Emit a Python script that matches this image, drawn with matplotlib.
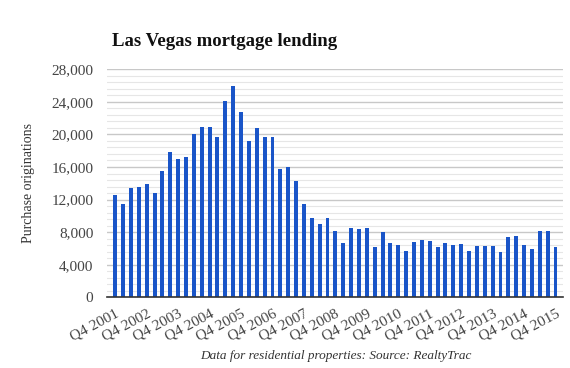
import matplotlib
matplotlib.use('Agg')
import matplotlib.pyplot as plt
import numpy as np

# quarterly purchase originations, Q4 2001 .. Q4 2015
quarters = ['Q4 %d' % y for y in range(2001, 2016)]
originations = [
    12580, 11470, 13480, 13560, 13930, 12870, 15530, 17870, 16930, 17260,
    20080, 20950, 20950, 19710, 24140, 25990, 22790, 19140, 20830, 19710,
    19710, 15780, 15990, 14300, 11470, 9750, 9060, 9750, 8150, 6720,
    8560, 8440, 8560, 6190, 8030, 6720, 6430, 5690, 6800, 7050,
    6930, 6190, 6680, 6430, 6560, 5690, 6310, 6310, 6310, 5610,
    7420, 7540, 6430, 5940, 8150, 8150, 6190,
]
yticks = [0, 4000, 8000, 12000, 16000, 20000, 24000, 28000]

plt.rcParams['font.family'] = ['Liberation Serif', 'DejaVu Serif']

fig = plt.figure(figsize=(5.7, 3.68), dpi=100)
ax = fig.add_axes([0.1884, 0.1921, 0.80, 0.6196])

x = np.arange(len(originations))
ax.bar(x, originations, width=0.5, color='#1a55c8', zorder=3)

ax.set_xlim(-1, len(originations))
ax.set_ylim(0, 28000)

# grid: major every 4000, minor every 800
ax.set_yticks(yticks)
ax.set_yticklabels(['{:,}'.format(v) for v in yticks], fontsize=11, color='#444444')
ax.set_yticks(np.arange(0, 28001, 800), minor=True)
ax.grid(axis='y', which='major', color='#c8c8c8', linewidth=1.0, zorder=0)
ax.grid(axis='y', which='minor', color='#e6e6e6', linewidth=0.8, zorder=0)
ax.tick_params(axis='y', which='both', length=0, pad=10)

ax.set_xticks(x[::4])
ax.set_xticklabels(quarters, rotation=28, ha='right', rotation_mode='anchor',
                   fontsize=11, color='#444444')
ax.tick_params(axis='x', length=0, pad=7)

for s in ['top', 'right', 'left']:
    ax.spines[s].set_visible(False)
ax.spines['bottom'].set_color('#333333')
ax.spines['bottom'].set_linewidth(1.2)
ax.spines['bottom'].set_zorder(4)

ax.set_ylabel('Purchase originations', fontsize=10, color='#333333', labelpad=12)

fig.text(112 / 570, 1 - 42 / 368, 'Las Vegas mortgage lending', fontsize=13.5,
         fontweight='bold', va='center', ha='left', color='#111111')
fig.text(336 / 570, 1 - 356 / 368, 'Data for residential properties: Source: RealtyTrac',
         fontsize=9.5, style='italic', ha='center', va='center', color='#333333')

fig.savefig('out.png', dpi=100, facecolor='white')
